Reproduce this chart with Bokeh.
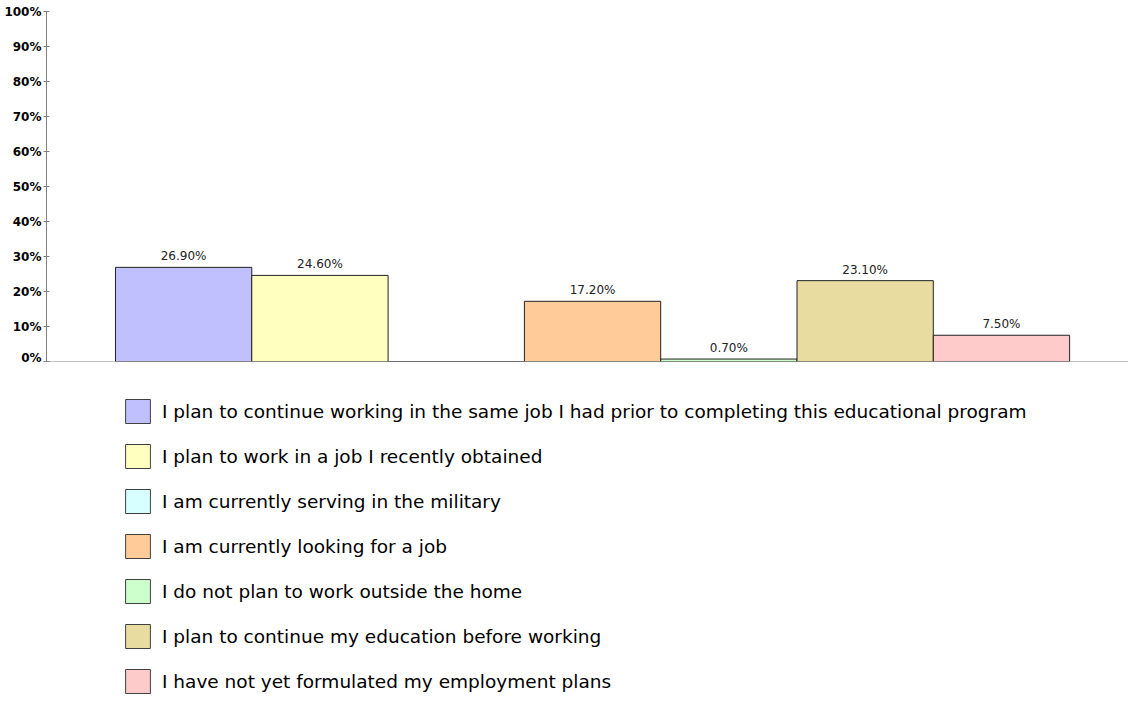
from bokeh.plotting import figure
from bokeh.models import (ColumnDataSource, Legend, LegendItem, Range1d, FixedTicker,
                          Span, LabelSet, CustomJSTickFormatter)
from bokeh.layouts import column
from bokeh.embed import file_html
from bokeh.resources import INLINE
from bokeh.core.properties import value

categories = [
    "I plan to continue working in the same job I had prior to completing this educational program",
    "I plan to work in a job I recently obtained",
    "I am currently serving in the military",
    "I am currently looking for a job",
    "I do not plan to work outside the home",
    "I plan to continue my education before working",
    "I have not yet formulated my employment plans",
]
values = [26.9, 24.6, 0.0, 17.2, 0.7, 23.1, 7.5]
colors = ["#C0C0FF", "#FFFFC0", "#D8FFFF", "#FFCC99", "#CCFFCC", "#E8DCA0", "#FFCACA"]
y_ticks = list(range(0, 101, 10))

FONT = "DejaVu Sans"

# ---------------- main chart ----------------
p = figure(width=1128, height=364, output_backend="svg", toolbar_location=None,
           x_range=Range1d(-1.006, 6.932), y_range=Range1d(0, 100),
           min_border_left=46, min_border_right=0, min_border_top=11, min_border_bottom=3)
p.outline_line_color = None
p.grid.visible = False
p.xaxis.visible = False

for i, (v, c) in enumerate(zip(values, colors)):
    src = ColumnDataSource(dict(x=[i], top=[v]))
    p.vbar(x="x", top="top", width=1.0, bottom=0, source=src,
           fill_color=c, line_color="#222222", line_width=1)

p.add_layout(Span(location=0, dimension="width", line_color="#808080", line_width=1))

lab_x = [i for i, v in enumerate(values) if v > 0]
lab_y = [v for v in values if v > 0]
lab_t = [f"{v:.2f}%" for v in values if v > 0]
lsrc = ColumnDataSource(dict(x=lab_x, y=lab_y, t=lab_t))
p.add_layout(LabelSet(x="x", y="y", text="t", source=lsrc, text_align="center",
                      text_baseline="bottom", y_offset=4, text_font_size="12px",
                      text_font=value(FONT), text_color="#222222"))

p.yaxis.ticker = FixedTicker(ticks=y_ticks)
p.yaxis.formatter = CustomJSTickFormatter(code="return tick + '%';")
p.yaxis.major_label_text_font = FONT
p.yaxis.major_label_text_font_style = "bold"
p.yaxis.major_label_text_font_size = "12px"
p.yaxis.major_label_text_color = "#000000"
p.yaxis.axis_line_color = "#808080"
p.yaxis.major_tick_line_color = "#808080"
p.yaxis.major_tick_in = 3
p.yaxis.major_tick_out = 3
p.yaxis.minor_tick_line_color = None
p.yaxis.major_label_standoff = 2

# ---------------- legend ----------------
q = figure(width=1128, height=340, output_backend="svg", toolbar_location=None,
           x_range=Range1d(-1.006, 6.932), y_range=Range1d(0, 100),
           min_border_left=0, min_border_right=0, min_border_top=0, min_border_bottom=0)
q.outline_line_color = None
q.grid.visible = False
q.axis.visible = False

items = []
for i, (cat, v, c) in enumerate(zip(categories, values, colors)):
    src = ColumnDataSource(dict(x=[i], top=[v]))
    r = q.vbar(x="x", top="top", width=1.0, source=src, fill_color=c,
               line_color="#404040", line_width=1, visible=False)
    items.append(LegendItem(label=cat, renderers=[r]))

legend = Legend(items=items, location=(76, 8), orientation="vertical",
                glyph_width=31, glyph_height=30, label_height=30,
                spacing=15, padding=8, margin=0, label_standoff=9,
                label_text_font=FONT, label_text_font_size="18.5px",
                label_text_color="#000000", border_line_color=None,
                background_fill_alpha=0, inactive_fill_alpha=0,
                click_policy="none")
q.add_layout(legend, "center")

layout = column(p, q, spacing=0)
open("out.html", "w").write(file_html(layout, INLINE))
